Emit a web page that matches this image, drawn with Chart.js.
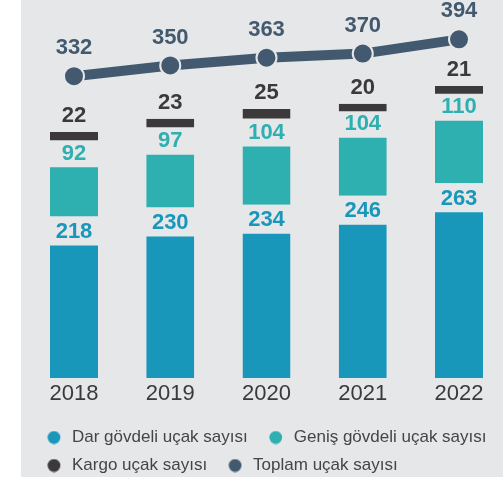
<!DOCTYPE html>
<html>
<head>
<meta charset="utf-8">
<script src="https://cdn.jsdelivr.net/npm/chart.js@4.4.1/dist/chart.umd.min.js"></script>
<style>
  html, body { margin: 0; padding: 0; background: #ffffff; overflow: hidden; width: 503px; height: 481px; }
  #panel { position: absolute; left: 21px; top: 0; width: 482px; height: 477px; background: #e6e7e9; }
  #chart { position: absolute; left: 21px; top: 0; }
</style>
</head>
<body>
<div id="panel"></div>
<canvas id="chart" width="490" height="484"></canvas>
<script>
// Yıllara göre uçak sayıları
const years = ['2018', '2019', '2020', '2021', '2022'];
const narrowBody = [218, 230, 234, 246, 263];
const wideBody = [92, 97, 104, 104, 110];
const cargo = [22, 23, 25, 20, 21];
const total = [332, 350, 363, 370, 394];

const seriesNames = ['Dar gövdeli uçak sayısı', 'Geniş gövdeli uçak sayısı', 'Kargo uçak sayısı', 'Toplam uçak sayısı'];

const COLORS = {
  narrow: '#1997bb',
  wide: '#2eafb0',
  cargo: '#3b393a',
  total: '#43596f',
  panel: '#e6e7e9',
  axisText: '#3a3a3a',
  legendText: '#454545'
};

// transparent strips that leave room for the value labels between segments
const GAP_NARROW = 29;
const GAP_WIDE = 19;
const GAP_CARGO = 9;

// legend marker: a dot drawn a little right of the marker box centre
function legendDot(color) {
  const c = document.createElement('canvas');
  c.width = 22; c.height = 14;
  const g = c.getContext('2d');
  g.fillStyle = color;
  g.beginPath();
  g.arc(14.75, 7, 6.4, 0, Math.PI * 2);
  g.fill();
  return c;
}

const valueLabels = {
  id: 'valueLabels',
  afterDatasetsDraw(chart) {
    const ctx = chart.ctx;
    ctx.save();
    ctx.font = 'bold 22px "Liberation Sans", Arial, sans-serif';
    ctx.textAlign = 'center';
    ctx.textBaseline = 'middle';
    chart.data.datasets.forEach((ds, di) => {
      const meta = chart.getDatasetMeta(di);
      meta.data.forEach((el, i) => {
        const v = ds.data[i];
        let y;
        if (ds.type === 'line') {
          y = el.y - 28;
        } else if (ds.labelGap !== undefined) {
          y = el.y + ds.labelGap - 13.5;
        } else {
          y = el.y - 16;
        }
        ctx.fillStyle = ds.labelColor;
        ctx.fillText(String(v), el.x, y);
      });
    });
    ctx.restore();
  }
};

const noBorder = { top: 0, right: 0, bottom: 0, left: 0 };

new Chart(document.getElementById('chart'), {
  data: {
    labels: years,
    datasets: [
      {
        type: 'bar',
        label: seriesNames[0],
        data: narrowBody,
        backgroundColor: COLORS.narrow,
        borderColor: 'rgba(0,0,0,0)',
        borderWidth: Object.assign({}, noBorder, { top: GAP_NARROW }),
        borderSkipped: 'start',
        labelGap: GAP_NARROW,
        labelColor: COLORS.narrow,
        stack: 'fleet',
        yAxisID: 'y',
        order: 1,
        clip: false
      },
      {
        type: 'bar',
        label: seriesNames[1],
        data: wideBody,
        backgroundColor: COLORS.wide,
        borderColor: 'rgba(0,0,0,0)',
        borderWidth: Object.assign({}, noBorder, { top: GAP_WIDE }),
        borderSkipped: 'start',
        labelGap: GAP_WIDE,
        labelColor: COLORS.wide,
        stack: 'fleet',
        yAxisID: 'y',
        order: 1,
        clip: false
      },
      {
        type: 'bar',
        label: seriesNames[2],
        data: cargo,
        backgroundColor: COLORS.cargo,
        borderColor: 'rgba(0,0,0,0)',
        borderWidth: Object.assign({}, noBorder, { bottom: GAP_CARGO }),
        borderSkipped: false,
        labelColor: COLORS.cargo,
        stack: 'fleet',
        yAxisID: 'y',
        order: 1,
        clip: false
      },
      {
        type: 'line',
        label: seriesNames[3],
        data: total,
        borderColor: COLORS.total,
        backgroundColor: COLORS.total,
        borderWidth: 10,
        pointRadius: 10,
        pointBorderWidth: 2,
        pointBackgroundColor: COLORS.total,
        pointBorderColor: COLORS.panel,
        labelColor: COLORS.total,
        yAxisID: 'y2',
        order: 0,
        tension: 0,
        clip: false
      }
    ]
  },
  options: {
    responsive: false,
    animation: false,
    devicePixelRatio: 1,
    layout: { padding: { top: 10, left: 5, right: 0, bottom: 0 } },
    datasets: {
      bar: { barThickness: 48, inflateAmount: 0 }
    },
    scales: {
      x: {
        stacked: true,
        offset: false,
        grid: { display: false, drawTicks: false },
        border: { display: false },
        ticks: {
          color: COLORS.axisText,
          font: { family: '"Liberation Sans", Arial, sans-serif', size: 22 },
          padding: 3,
          maxRotation: 0
        },
        afterFit(scale) { scale.height = 40; }
      },
      y: {
        position: 'left',
        stacked: true,
        min: 0,
        max: 494,
        grid: { display: false, drawTicks: false },
        border: { display: false },
        ticks: { display: false },
        afterFit(scale) { scale.width = 48; }
      },
      y2: {
        position: 'right',
        min: -176,
        max: 440,
        grid: { display: false, drawTicks: false },
        border: { display: false },
        ticks: { display: false },
        afterFit(scale) { scale.width = 52; }
      }
    },
    plugins: {
      tooltip: { enabled: false },
      legend: {
        position: 'bottom',
        align: 'start',
        labels: {
          usePointStyle: true,
          pointStyleWidth: 26.5,
          boxHeight: 9,
          padding: 11,
          color: COLORS.legendText,
          font: { family: '"Liberation Sans", Arial, sans-serif', size: 17 },
          generateLabels(chart) {
            const items = Chart.defaults.plugins.legend.labels.generateLabels(chart);
            items.forEach(item => {
              const ds = chart.data.datasets[item.datasetIndex];
              item.pointStyle = legendDot(ds.backgroundColor);
            });
            return items;
          },
          sort(a, b) { return a.datasetIndex - b.datasetIndex; }
        }
      }
    }
  },
  plugins: [valueLabels]
});
</script>
</body>
</html>
